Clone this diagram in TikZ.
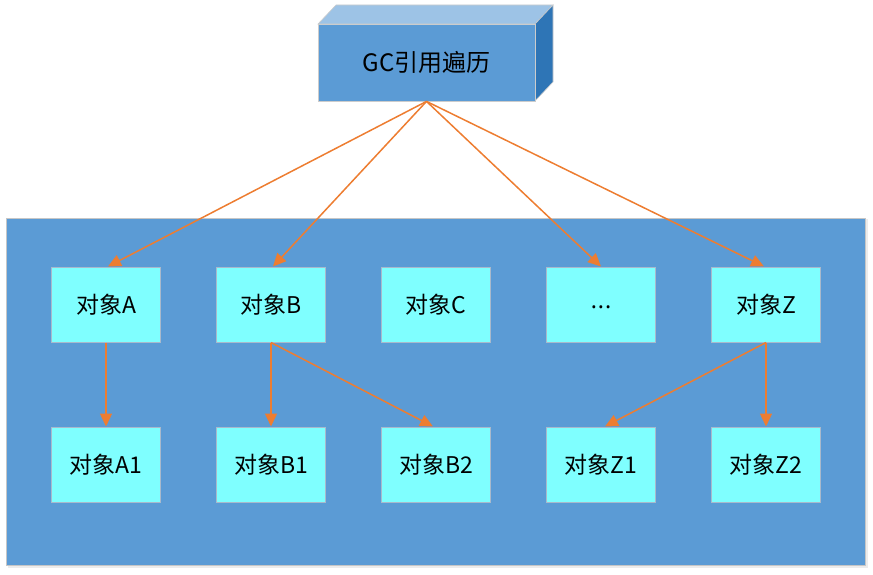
\documentclass[tikz,border=0pt]{standalone}
\usepackage{fontspec}
\setmainfont{Noto Sans CJK SC}
\newfontfamily\latinfont{Noto Sans}
\usetikzlibrary{arrows.meta,calc}
\definecolor{panelblue}{HTML}{5B9BD5}
\definecolor{topface}{HTML}{9DC3E6}
\definecolor{sideface}{HTML}{2E75B6}
\definecolor{objfill}{HTML}{7FFFFF}
\definecolor{objedge}{HTML}{A9B9CC}
\definecolor{arrowc}{HTML}{ED7D31}
\tikzset{
  objbox/.style={draw=objedge, line width=1pt, fill=objfill, minimum width=109pt, minimum height=75pt, inner sep=0pt, font=\fontsize{23}{27}\selectfont, text=black},
  refarrow/.style={draw=arrowc, line width=1.5pt, -{Triangle[length=13pt,width=12pt]}, shorten >=0pt}
}
\begin{document}
\begin{tikzpicture}[x=1pt,y=-1pt]
\useasboundingbox (0,0) rectangle (873,575);
% container
\fill[gray!15] (8,219) rectangle (868,568);
\node[draw=gray!45, line width=1pt, fill=panelblue, minimum width=859pt, minimum height=347pt, inner sep=0pt] (panel) at (435.5,391.5) {};
% GC box (3D)
\fill[topface, draw=gray!40, line width=0.6pt] (318,24) -- (336,5) -- (553,5) -- (535,24) -- cycle;
\fill[sideface, draw=gray!40, line width=0.6pt] (535,24) -- (553,5) -- (553,82) -- (535,101) -- cycle;
\node[draw=gray!40, line width=0.8pt, fill=panelblue, minimum width=217pt, minimum height=77pt, inner sep=0pt, font=\fontsize{24}{28}\selectfont] (gc) at (426.5,62.5) {GC引用遍历};
% objects row 1
\node[objbox] (a) at (106,304.5) {对象A};
\node[objbox] (b) at (271,304.5) {对象B};
\node[objbox] (c) at (436,304.5) {对象C};
\node[objbox, text depth=0pt] (d) at (601,304.5) {\raisebox{-4pt}{\latinfont .\kern1pt.\kern1pt.}};
\node[objbox] (z) at (766,304.5) {对象Z};
% objects row 2
\node[objbox] (a1) at (106,464.5) {对象A1};
\node[objbox] (b1) at (271,464.5) {对象B1};
\node[objbox] (b2) at (436,464.5) {对象B2};
\node[objbox] (z1) at (601,464.5) {对象Z1};
\node[objbox] (z2) at (766,464.5) {对象Z2};
% arrows
\draw[refarrow] (gc.south) -- ($(a.north)+(2,0)$);
\draw[refarrow] (gc.south) -- ($(b.north)+(2,0)$);
\draw[refarrow] (gc.south) -- (d.north);
\draw[refarrow] (gc.south) -- ($(z.north)+(-2,0)$);
\draw[refarrow] (a.south) -- (a1.north);
\draw[refarrow] (b.south) -- (b1.north);
\draw[refarrow] (b.south) -- ($(b2.north)+(-3,0)$);
\draw[refarrow] (z.south) -- ($(z1.north)+(4,0)$);
\draw[refarrow] (z.south) -- (z2.north);
\end{tikzpicture}
\end{document}
